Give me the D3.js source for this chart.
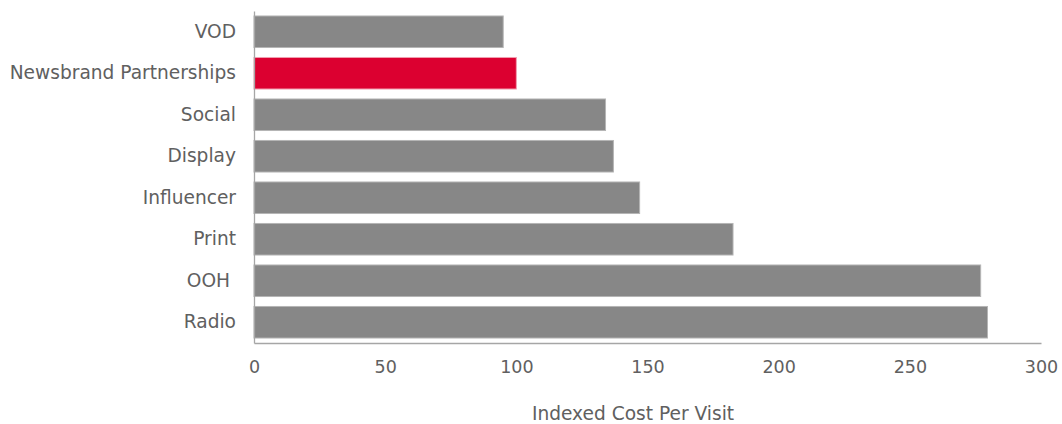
<!DOCTYPE html>
<html lang="en">
<head>
<meta charset="utf-8">
<script src="https://d3js.org/d3.v7.min.js"></script>
<style>
  body { margin: 0; background: #fff; }
  text { font-family: "DejaVu Sans", sans-serif; fill: #606060; white-space: pre; }
</style>
</head>
<body>
<div id="chart"></div>
<script>
const categories = ['VOD', 'Newsbrand Partnerships', 'Social', 'Display', 'Influencer', 'Print', 'OOH ', 'Radio']
const values = [95, 100, 134, 137, 147, 182.6, 277, 279.6]
const highlight = 'Newsbrand Partnerships'
const xTicks = [0, 50, 100, 150, 200, 250, 300]
const axisTitle = 'Indexed Cost Per Visit'

const width = 1062
const height = 424
const margin = {top: 11, right: 21, bottom: 81, left: 254}

const svg = d3.select('#chart').append('svg')
  .attr('width', width)
  .attr('height', height)

const x = d3.scaleLinear().domain([0, 300]).range([margin.left, width - margin.right])
const y = d3.scaleBand().domain(categories)
  .range([margin.top, height - margin.bottom])
  .paddingInner(0.24).paddingOuter(0.12)

const data = categories.map((c, i) => ({name: c, value: values[i]}))

svg.append('g').selectAll('rect')
  .data(data)
  .enter()
  .append('rect')
  .attr('x', x(0))
  .attr('y', d => y(d.name))
  .attr('width', d => x(d.value) - x(0))
  .attr('height', y.bandwidth())
  .attr('fill', d => d.name === highlight ? '#dc0030' : '#878787')
  .attr('stroke', d => d.name === highlight ? '#f0a0b0' : '#b5b5b5')
  .attr('stroke-width', 1)

// axes
const xAxis = svg.append('g')
  .attr('transform', `translate(0, ${height - margin.bottom})`)
  .call(d3.axisBottom(x).tickValues(xTicks).tickSize(0).tickPadding(18))
xAxis.select('.domain').attr('stroke', '#a6a6a6').attr('stroke-width', 1.3)
xAxis.selectAll('text').style('font-size', '17.5px').style('font-family', '"DejaVu Sans", sans-serif').attr('fill', '#606060')

const yAxis = svg.append('g')
  .attr('transform', `translate(${margin.left}, 0)`)
  .call(d3.axisLeft(y).tickSize(0).tickPadding(18))
yAxis.select('.domain').attr('stroke', '#a6a6a6').attr('stroke-width', 1.3)
yAxis.selectAll('text').style('font-size', '18.6px').style('font-family', '"DejaVu Sans", sans-serif').attr('fill', '#606060')

svg.append('text')
  .attr('x', 633)
  .attr('y', 420)
  .attr('text-anchor', 'middle')
  .style('font-size', '18.6px')
  .text(axisTitle)
</script>
</body>
</html>
